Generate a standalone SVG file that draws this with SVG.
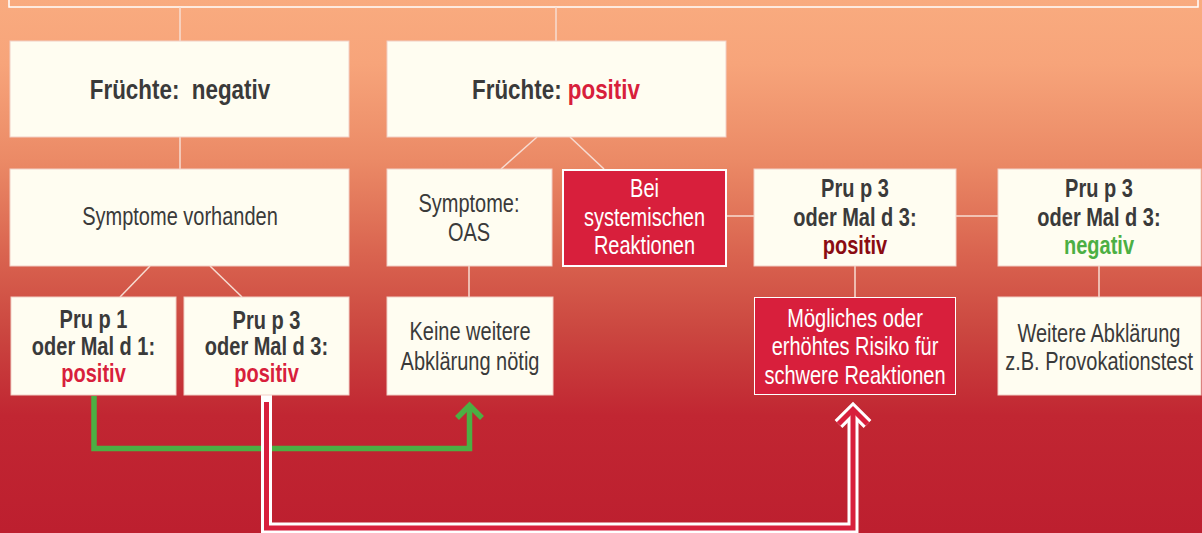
<svg xmlns="http://www.w3.org/2000/svg" width="1202" height="533" viewBox="0 0 1202 533">
<defs>
<linearGradient id="bg" x1="0" y1="0" x2="0" y2="1">
<stop offset="0" stop-color="#f9ab7f"/>
<stop offset="0.12" stop-color="#f7a47a"/>
<stop offset="0.3" stop-color="#eb8a66"/>
<stop offset="0.47" stop-color="#da6550"/>
<stop offset="0.62" stop-color="#cb4740"/>
<stop offset="0.78" stop-color="#c12632"/>
<stop offset="1" stop-color="#bd1f2f"/>
</linearGradient>
<style>
.box{fill:#fffdf1;stroke:#f2cfc6;stroke-width:1}
.rbox{fill:#d81f3c;stroke:#ffffff}
.ln{stroke:#f7dcd2;stroke-width:1.5;fill:none}
text{font-family:"Liberation Sans",Arial,sans-serif;font-size:25px;text-anchor:middle;fill:#3a3a3a;transform-box:fill-box;transform-origin:center;transform:scaleX(0.8)}
.b{font-weight:bold;font-size:25px}
.big{font-size:28px}
.w{fill:#ffffff}
.red{fill:#d81f3c}
.dred{fill:#8a0b12}
.grn{fill:#4caf43}
</style>
</defs>
<rect x="0" y="0" width="1202" height="533" fill="url(#bg)"/>
<rect x="9" y="-20" width="1189" height="27" fill="none" stroke="#ffffff" stroke-width="1.5"/>

<g id="connectors">
<line class="ln" x1="180" y1="7" x2="180" y2="41"/>
<line class="ln" x1="556" y1="7" x2="556" y2="41"/>
<line class="ln" x1="180" y1="137" x2="180" y2="169"/>
<line class="ln" x1="537" y1="137" x2="501" y2="169"/>
<line class="ln" x1="570" y1="137" x2="604" y2="169"/>
<line class="ln" x1="727" y1="216" x2="754" y2="216"/>
<line class="ln" x1="956" y1="216" x2="998" y2="216"/>
<line class="ln" x1="150" y1="266" x2="120" y2="297"/>
<line class="ln" x1="210" y1="266" x2="242" y2="297"/>
<line class="ln" x1="469" y1="266" x2="469" y2="297"/>
<line class="ln" x1="855" y1="266" x2="855" y2="297"/>
<line class="ln" x1="1099" y1="266" x2="1099" y2="297"/>
<path d="M94,396 V448.5 H469.5 V406" fill="none" stroke="#4caf43" stroke-width="5.5"/>
<path d="M457,418 L469.5,405.5 L482,418" fill="none" stroke="#4caf43" stroke-width="5.5" stroke-linejoin="miter"/>
<path d="M266.5,395 V528 H853 V410" fill="none" stroke="#ffffff" stroke-width="11"/>
<path d="M838.5,424 L853,409.5 L867.5,424" fill="none" stroke="#ffffff" stroke-width="11" stroke-linejoin="miter"/>
<path d="M266.5,402 V528 H853 V410" fill="none" stroke="#d81f3c" stroke-width="5"/>
<path d="M838.5,424 L853,409.5 L867.5,424" fill="none" stroke="#d81f3c" stroke-width="5" stroke-linejoin="miter"/>
</g>

<g id="node-fruechte-negativ">
<rect class="box" x="10" y="41" width="339" height="96"/>
<text class="b big" x="180" y="99" xml:space="preserve">Früchte:  negativ</text>
</g>
<g id="node-fruechte-positiv">
<rect class="box" x="387" y="41" width="339" height="96"/>
<text class="b big" x="556" y="99">Früchte: <tspan class="red">positiv</tspan></text>
</g>
<g id="node-symptome-vorhanden">
<rect class="box" x="10" y="169" width="339" height="97"/>
<text x="180" y="225">Symptome vorhanden</text>
</g>
<g id="node-symptome-oas">
<rect class="box" x="387" y="169" width="165" height="97"/>
<text x="469" y="212">Symptome:</text>
<text x="469" y="241">OAS</text>
</g>
<g id="node-systemisch">
<rect class="rbox" x="563" y="170" width="163" height="96" stroke-width="2"/>
<text class="w" x="644.5" y="197">Bei</text>
<text class="w" x="644.5" y="226">systemischen</text>
<text class="w" x="644.5" y="254">Reaktionen</text>
</g>
<g id="node-prup3-positiv">
<rect class="box" x="754" y="169" width="202" height="97"/>
<text class="b" x="855" y="197">Pru p 3</text>
<text class="b" x="855" y="226">oder Mal d 3:</text>
<text class="b dred" x="855" y="254">positiv</text>
</g>
<g id="node-prup3-negativ">
<rect class="box" x="998" y="169" width="203" height="97"/>
<text class="b" x="1099" y="197">Pru p 3</text>
<text class="b" x="1099" y="226">oder Mal d 3:</text>
<text class="b grn" x="1099" y="254">negativ</text>
</g>
<g id="node-prup1-positiv-links">
<rect class="box" x="11" y="297" width="165" height="98"/>
<text class="b" x="93.5" y="328">Pru p 1</text>
<text class="b" x="93.5" y="355">oder Mal d 1:</text>
<text class="b red" x="93.5" y="382">positiv</text>
</g>
<g id="node-prup3-positiv-links">
<rect class="box" x="184" y="297" width="165" height="98"/>
<text class="b" x="266.5" y="329">Pru p 3</text>
<text class="b" x="266.5" y="355">oder Mal d 3:</text>
<text class="b red" x="266.5" y="382">positiv</text>
</g>
<g id="node-keine-abklaerung">
<rect class="box" x="387" y="297" width="166" height="98"/>
<text x="470" y="340">Keine weitere</text>
<text x="470" y="370">Abklärung nötig</text>
</g>
<g id="node-risiko">
<rect class="rbox" x="754.5" y="297.5" width="201" height="97" stroke-width="1"/>
<text class="w" x="855" y="327">Mögliches oder</text>
<text class="w" x="855" y="355">erhöhtes Risiko für</text>
<text class="w" x="855" y="384">schwere Reaktionen</text>
</g>
<g id="node-weitere-abklaerung">
<rect class="box" x="998" y="297" width="203" height="98"/>
<text x="1099" y="342">Weitere Abklärung</text>
<text x="1099" y="370">z.B. Provokationstest</text>
</g>
</svg>
